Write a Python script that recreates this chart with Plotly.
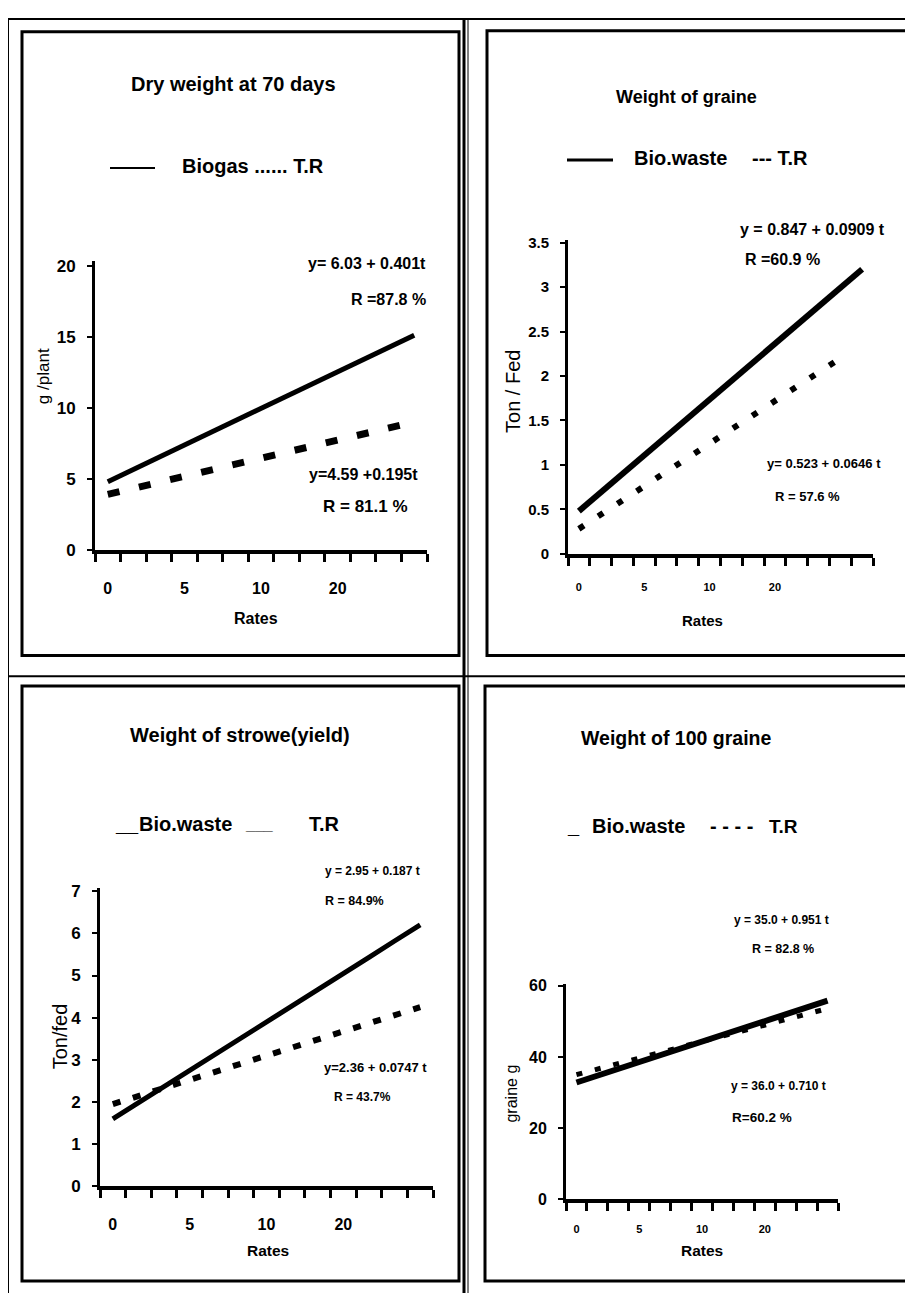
import plotly.graph_objects as go

# Page body has an 8px margin, so the figure is placed at (8, 8) in the window.
OX, OY = 8, 8
FW, FH = 905, 1285
FONT = "Liberation Sans, Arial, Helvetica, sans-serif"

# ---------------- data ----------------
# Panel 1: Dry weight at 70 days (13 rate categories)
p1_cats = list(range(1, 14))
p1_biogas = [4.80, 5.66, 6.52, 7.38, 8.23, 9.09, 9.95, 10.81, 11.67, 12.53, 13.38, 14.24, 15.10]
p1_tr = [3.90, 4.33, 4.75, 5.18, 5.60, 6.03, 6.45, 6.88, 7.30, 7.73, 8.15, 8.58, 9.00]

# Panel 2: Weight of graine (14 rate categories)
p2_cats = list(range(1, 15))
p2_bio = [0.48, 0.69, 0.90, 1.11, 1.32, 1.53, 1.74, 1.95, 2.15, 2.36, 2.57, 2.78, 2.99, 3.20]
p2_tr = [0.28, 0.44, 0.60, 0.76, 0.92, 1.08, 1.24, 1.40, 1.56, 1.72, 1.88, 2.04, 2.20, None]

# Panel 3: Weight of strowe (yield) (13 rate categories)
p3_cats = list(range(1, 14))
p3_bio = [1.60, 1.98, 2.37, 2.75, 3.13, 3.52, 3.90, 4.28, 4.67, 5.05, 5.43, 5.82, 6.20]
p3_tr = [1.95, 2.14, 2.33, 2.53, 2.72, 2.91, 3.10, 3.29, 3.48, 3.68, 3.87, 4.06, 4.25]

# Panel 4: Weight of 100 graine (13 rate categories)
p4_cats = list(range(1, 14))
p4_bio = [32.8, 34.7, 36.6, 38.6, 40.5, 42.4, 44.3, 46.2, 48.1, 50.1, 52.0, 53.9, 55.8]
p4_tr = [35.0, 36.6, 38.1, 39.7, 41.2, 42.8, 44.3, 45.9, 47.4, 49.0, 50.5, 52.1, 53.6]

x_tick_pos = [1, 4, 7, 10]
x_tick_text = ["0", "5", "10", "20"]

p1_yticks = [0, 5, 10, 15, 20]
p2_yticks = [0, 0.5, 1, 1.5, 2, 2.5, 3, 3.5]
p2_yticktext = ["0", "0.5", "1", "1.5", "2", "2.5", "3", "3.5"]
p3_yticks = [0, 1, 2, 3, 4, 5, 6, 7]
p4_yticks = [0, 20, 40, 60]


def px(x):
    return (x - OX) / FW


def py(y):
    return 1 - (y - OY) / FH


fig = go.Figure()


def add_pair(xa, ya, cats, solid, dotted, sw, dwidth, dash):
    fig.add_trace(go.Scatter(x=cats, y=solid, mode="lines", xaxis=xa, yaxis=ya,
                             line=dict(color="black", width=sw), showlegend=False,
                             hoverinfo="skip"))
    fig.add_trace(go.Scatter(x=cats, y=dotted, mode="lines", xaxis=xa, yaxis=ya,
                             line=dict(color="black", width=dwidth, dash=dash),
                             showlegend=False, hoverinfo="skip"))


add_pair("x", "y", p1_cats, p1_biogas, p1_tr, 5, 7, "12px,20px")
add_pair("x2", "y2", p2_cats, p2_bio, p2_tr, 6, 6, "6px,17px")
add_pair("x3", "y3", p3_cats, p3_bio, p3_tr, 5, 6, "8px,13px")
add_pair("x4", "y4", p4_cats, p4_bio, p4_tr, 6, 5, "6px,13px")


def xaxis(dom, n, anchor, fs, standoff):
    return dict(domain=[px(dom[0]), px(dom[1])], range=[0.5, n + 0.5], anchor=anchor,
                showline=True, linewidth=4, linecolor="black", showgrid=False,
                zeroline=False, tickmode="array", tickvals=x_tick_pos,
                ticktext=x_tick_text, ticks="outside", ticklen=0, tickcolor="black",
                ticklabelstandoff=standoff,
                tickfont=dict(family=FONT, size=fs, color="black", weight="bold"),
                minor=dict(tickmode="array", tickvals=[k + 0.5 for k in range(0, n + 1)],
                           ticks="outside", ticklen=8, tickwidth=3, tickcolor="black"),
                fixedrange=True)


def yaxis(top, bottom, rng, anchor, tv, tt, fs):
    return dict(domain=[py(bottom), py(top)], range=rng, anchor=anchor,
                showline=True, linewidth=3, linecolor="black", showgrid=False,
                zeroline=False, tickmode="array", tickvals=tv, ticktext=tt,
                ticks="outside", ticklen=5, tickwidth=2, tickcolor="black",
                ticklabelstandoff=8,
                tickfont=dict(family=FONT, size=fs, color="black", weight="bold"),
                fixedrange=True)


fig.update_layout(
    width=FW, height=FH, margin=dict(l=0, r=0, t=0, b=0),
    paper_bgcolor="white", plot_bgcolor="rgba(0,0,0,0)",
    xaxis=xaxis((95, 427), 13, "y", 16, 21),
    yaxis=yaxis(257, 550, [0, 20.35], "x", p1_yticks, [str(v) for v in p1_yticks], 17),
    xaxis2=xaxis((568, 873), 14, "y2", 11, 20),
    yaxis2=yaxis(236, 554, [0, 3.53], "x2", p2_yticks, p2_yticktext, 15),
    xaxis3=xaxis((100, 433), 13, "y3", 16, 21),
    yaxis3=yaxis(893, 1195, [0, 7.07], "x3", p3_yticks, [str(v) for v in p3_yticks], 17),
    xaxis4=xaxis((566, 838), 13, "y4", 11, 17),
    yaxis4=yaxis(990, 1208, [0, 60.5], "x4", p4_yticks, [str(v) for v in p4_yticks], 16),
)

# ---------------- frames ----------------
shapes = []


def seg(x0, y0, x1, y1, w=2):
    shapes.append(dict(type="line", xref="paper", yref="paper",
                       x0=px(x0), y0=py(y0), x1=px(x1), y1=py(y1),
                       line=dict(color="black", width=w)))


# outer frame / dividers
seg(8, 12, 920, 12, 2)
seg(8, 12, 8, 1310, 2)
seg(464, 12, 464, 1310, 3)
seg(468, 12, 468, 1310, 1)
seg(8, 678, 920, 678, 2)
# panel boxes
for (x0, y0, x1, y1) in [(22, 25, 459, 657), (487, 24, 920, 657),
                         (22, 688, 459, 1291), (485, 688, 920, 1291)]:
    shapes.append(dict(type="rect", xref="paper", yref="paper",
                       x0=px(x0), y0=py(y1), x1=px(x1), y1=py(y0),
                       line=dict(color="black", width=3), fillcolor="rgba(0,0,0,0)"))
# legend sample lines
seg(110, 163, 155, 163, 2)
seg(567, 155, 613, 155, 3)
fig.update_layout(shapes=shapes)

# ---------------- text ----------------
ann = []
DY = -2


def txt(x, y, s, size, bold=True, anchor="center", angle=0):
    ann.append(dict(x=px(x), y=py(y + DY), xref="paper", yref="paper", text=s,
                    showarrow=False, xanchor=anchor, yanchor="middle", textangle=angle,
                    font=dict(family=FONT, size=size, color="black",
                              weight="bold" if bold else "normal")))


# Panel 1
txt(233, 80, "Dry weight at 70 days", 20)
txt(180, 163, "Biogas ...... T.R", 20, anchor="left")
txt(428, 262, "y= 6.03 + 0.401t", 16, anchor="right")
txt(428, 298, "R =87.8 %", 16, anchor="right")
txt(420, 476, "y=4.59 +0.195t", 16, anchor="right")
txt(410, 508, "R = 81.1 %", 17, anchor="right")
txt(256, 622, "Rates", 16)
txt(43, 376, "g /plant", 17, bold=False, angle=-90)

# Panel 2
txt(686, 93, "Weight of graine", 18)
txt(632, 155, "Bio.waste", 20, anchor="left")
txt(750, 155, "--- T.R", 20, anchor="left")
txt(887, 227, "y = 0.847 + 0.0909 t", 16, anchor="right")
txt(743, 258, "R =60.9 %", 16, anchor="left")
txt(883, 465, "y= 0.523 + 0.0646 t", 13, anchor="right")
txt(773, 498, "R = 57.6 %", 13, anchor="left")
txt(702, 624, "Rates", 15)
txt(513, 392, "Ton / Fed", 20, bold=False, angle=-90)

# Panel 3
txt(240, 740, "Weight of strowe(yield)", 20)
txt(113, 830, "__", 20, anchor="left")
txt(137, 830, "Bio.waste", 20, anchor="left")
txt(243, 830, "___", 16, anchor="left")
txt(307, 830, "T.R", 20, anchor="left")
txt(323, 877, "y = 2.95 + 0.187 t", 12, anchor="left")
txt(323, 908, "R = 84.9%", 12.5, anchor="left")
txt(322, 1077, "y=2.36 + 0.0747 t", 13, anchor="left")
txt(332, 1107, "R = 43.7%", 12, anchor="left")
txt(268, 1262, "Rates", 15.5)
txt(60, 1045, "Ton/fed", 20, bold=False, angle=-90)

# Panel 4
txt(676, 743, "Weight of 100 graine", 19.5)
txt(565, 832, "_", 20, anchor="left")
txt(590, 832, "Bio.waste", 20, anchor="left")
txt(708, 832, "- - - -", 20, anchor="left")
txt(767, 832, "T.R", 19, anchor="left")
txt(732, 927, "y = 35.0 + 0.951 t", 12, anchor="left")
txt(750, 957, "R = 82.8 %", 12.5, anchor="left")
txt(729, 1095, "y = 36.0 + 0.710 t", 12, anchor="left")
txt(730, 1127, "R=60.2 %", 13.5, anchor="left")
txt(702, 1262, "Rates", 15.5)
txt(512, 1103, "graine g", 16, bold=False, angle=-90)

fig.update_layout(annotations=ann)

fig.write_html("out.html")
